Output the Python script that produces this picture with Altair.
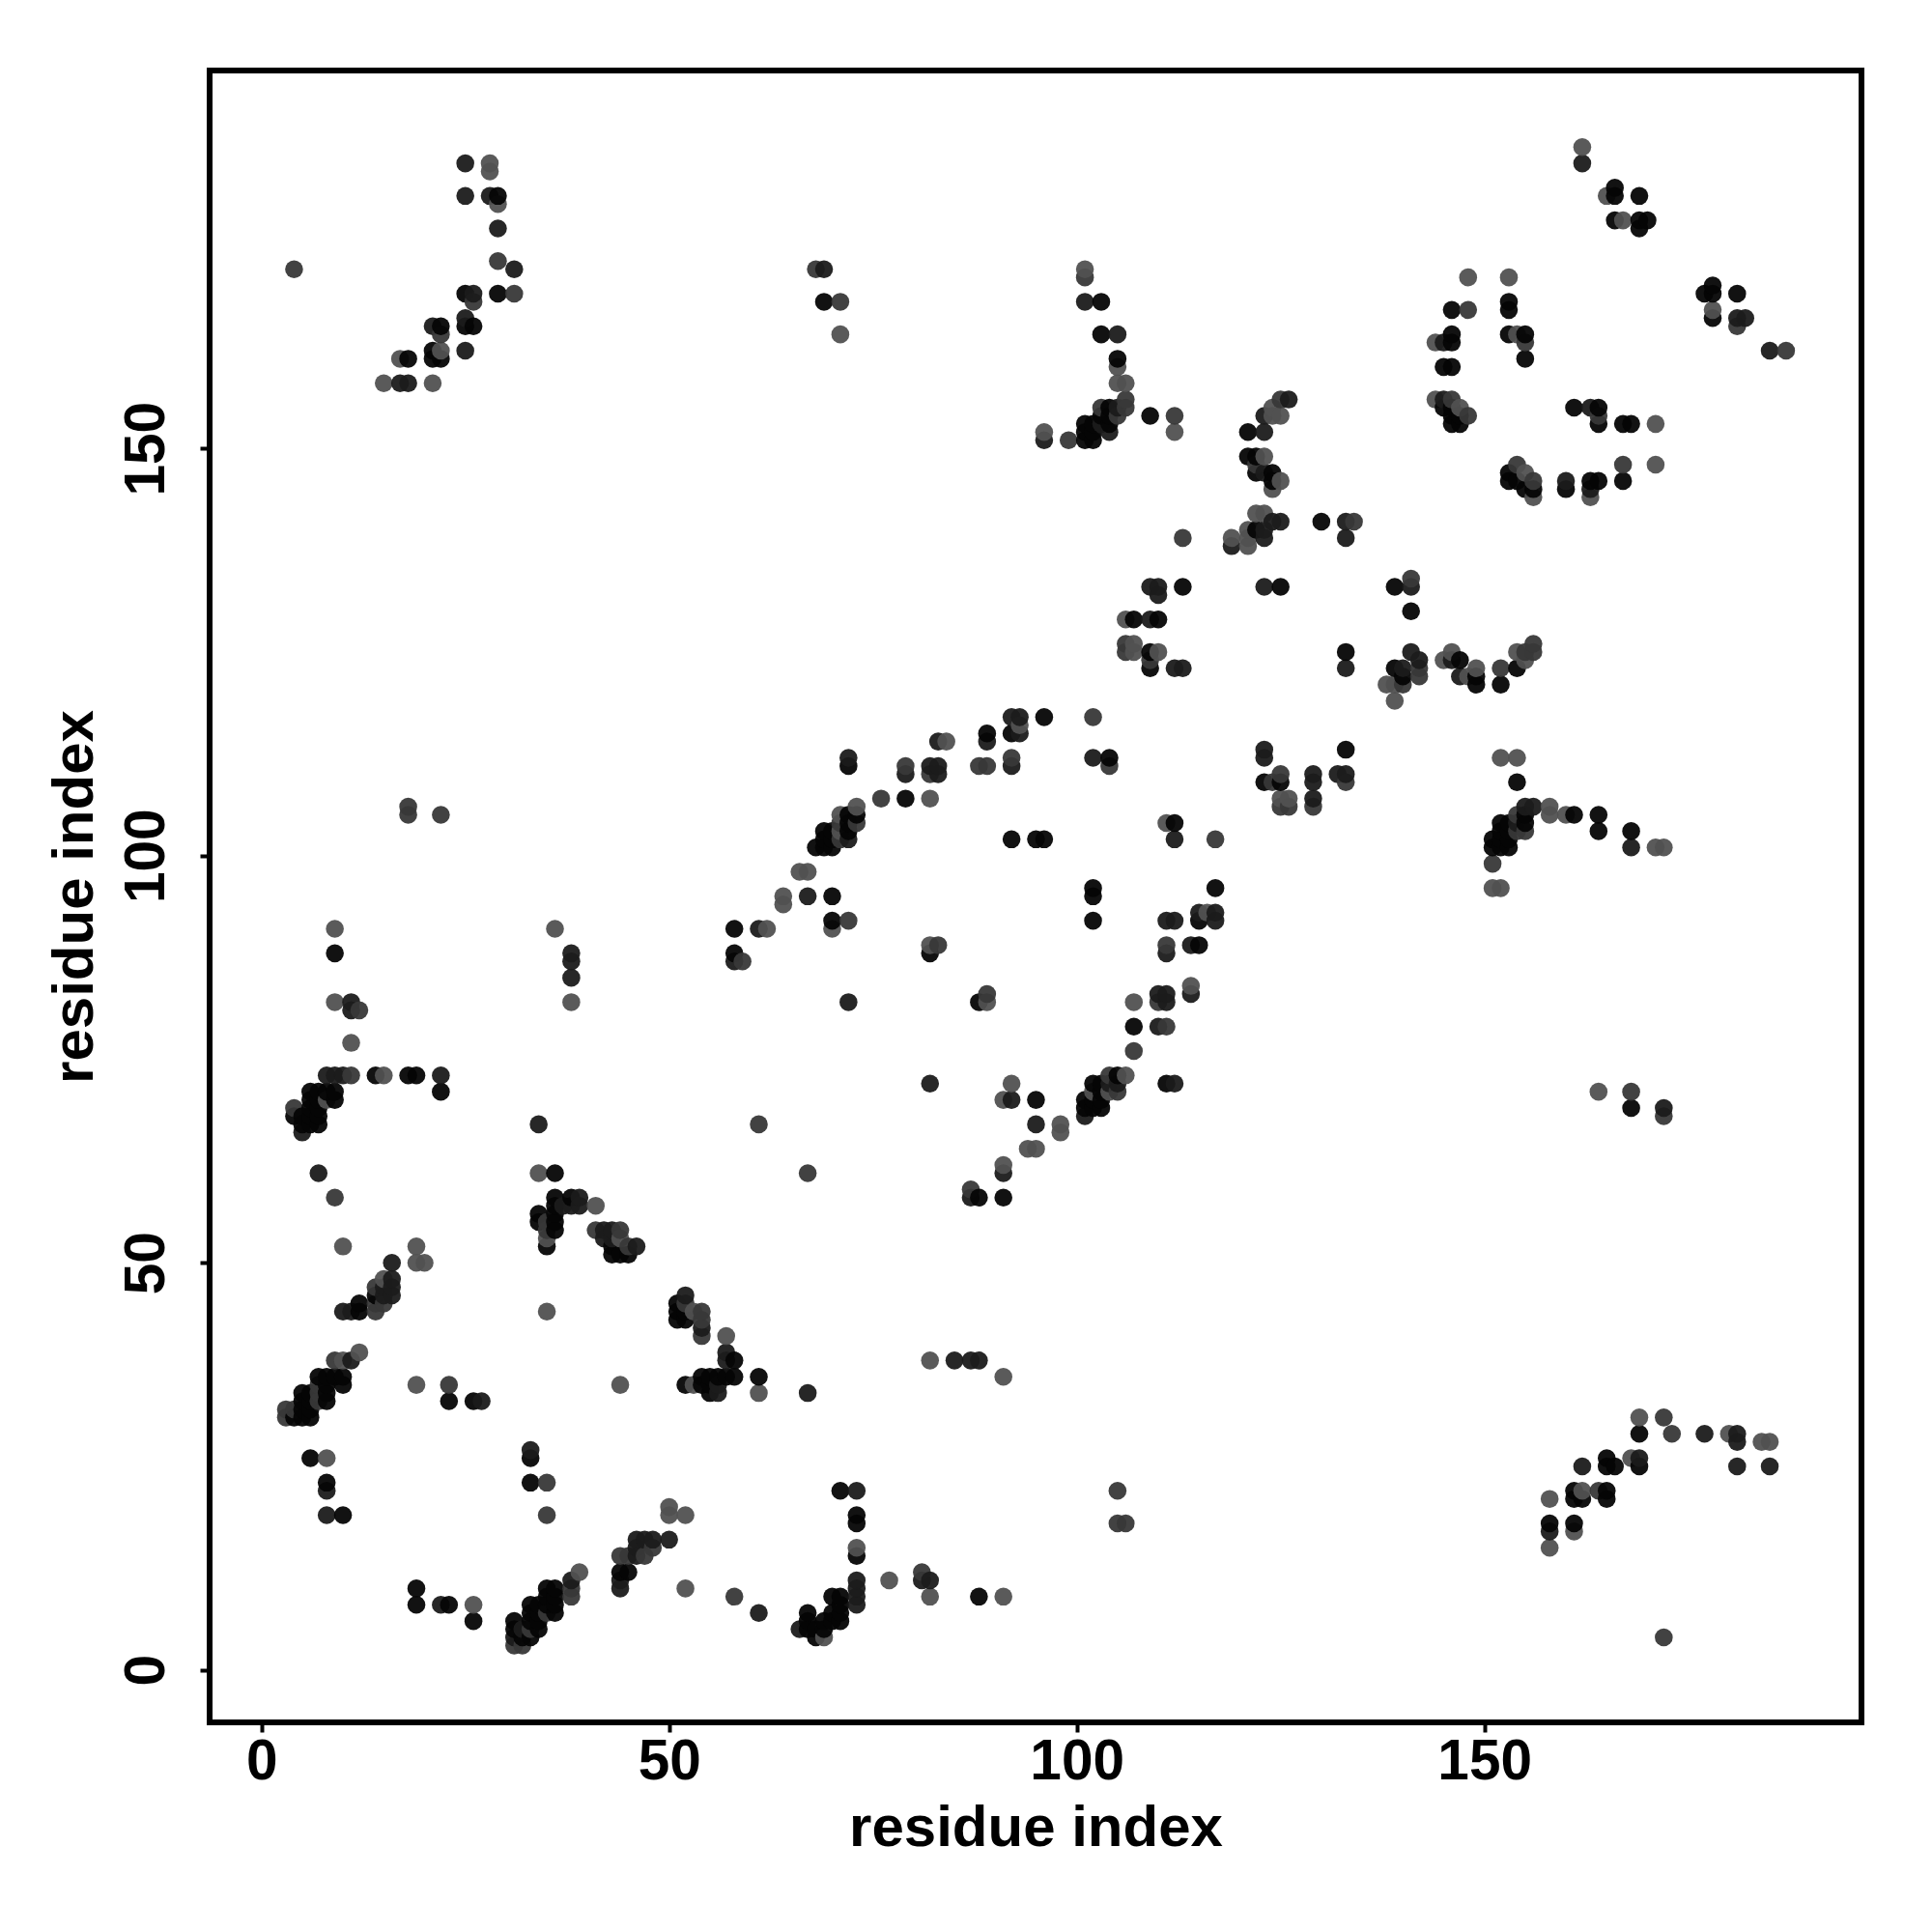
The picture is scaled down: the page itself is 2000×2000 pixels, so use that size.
import altair as alt
import pandas as pd

FILL = {"L": "#515151", "M": "#383838", "D": "#1b1b1b", "K": "#050505"}

contacts_light = [
    (10,52),(19,52),(19,50),(20,50),(15,48),(12,39),(10,38),(35,44),(44,35),(19,35),(8,26),(50,20),(50,19),(52,19),
    (39,12),(26,8),(52,10),(53,44),(57,41),(53,35),(61,34),(41,57),(35,53),(44,53),(9,91),(9,82),(11,77),(15,73),
    (36,91),(38,82),(34,61),(62,91),(64,95),(64,94),(73,15),(77,11),(82,9),(91,9),(82,38),(91,36),(69,4),(8,70),
    (93,116),(84,114),(82,107),(73,106),(71,105),(71,103),(66,98),(67,98),(70,91),(82,89),(111,104),(116,93),(114,84),
    (107,82),(89,82),(92,72),(91,70),(98,67),(98,66),(94,64),(95,64),(91,62),(106,73),(104,71),(102,71),
    (152,112),(154,112),(125,107),(126,107),(119,139),(121,139),(121,138),(122,142),(123,142),(125,146),(124,145),(138,121),(139,121),(139,119),
    (145,124),(146,125),(148,122),(149,123),(154,125),(155,124),(155,147),(156,144),(163,144),(171,148),(158,106),(158,105),(160,105),
    (171,101),(172,101),(151,96),(152,96),(162,187),(165,181),(167,178),(178,167),(101,172),(105,160),(105,158),(106,158),
    (112,152),(96,152),(148,171),(153,171),(144,163),(154,164),(144,156),(147,155),(171,153),(124,155),(125,154),(124,154),(121,140),
    (123,149),(164,71),(169,31),(180,29),(184,28),(185,28),(168,26),(158,21),(162,22),(158,15),(161,17),
    (28,185),(28,184),(29,180),(22,162),(17,161),(15,158),(21,158),(71,164),(106,129),(107,126),(107,125),(110,125),
]
contacts_mid = [
    (14,47),(14,45),(14,44),(15,45),(9,38),(3,32),(3,31),(4,32),(7,35),(7,34),(7,33),(23,35),(35,23),(35,19),(48,15),(47,14),(45,14),(44,14),
    (38,10),(38,9),(33,5),(35,7),(35,55),(44,54),(41,54),(45,52),(52,45),(54,44),(54,43),(54,41),(58,9),(18,106),(18,105),(22,105),(12,81),(11,73),
    (172,4),(59,87),(61,67),(67,61),(81,12),(105,22),(105,18),(106,18),(4,69),(9,58),(35,54),
    (102,117),(79,111),(88,111),(89,111),(92,112),(104,111),(82,110),(76,107),(73,104),(71,104),(71,102),(72,92),(117,102),(83,89),(111,89),
    (110,82),(111,79),(89,83),(107,76),(105,71),(104,73),(87,59),(113,139),(124,109),(125,110),(125,106),(126,106),
    (129,106),(133,109),(134,141),(140,121),(142,122),(142,123),(152,123),(155,125),(156,126),(156,125),(156,146),(154,105),(154,103),(155,103),
    (151,99),(181,165),(187,162),(148,167),(155,163),(146,156),(148,154),(164,154),(167,148),(154,148),(99,151),
    (103,155),(106,156),(106,155),(105,154),(112,154),(122,148),(168,71),(172,68),(172,31),(173,29),(164,22),
    (4,172),(29,173),(26,168),(31,169),(22,164),(68,172),(71,168),(141,134),(106,126),(106,125),(109,124),
    (32,3),(31,3),(101,171),(125,156),
]
contacts_dark = [
    (16,50),(16,48),(15,47),(16,47),(15,46),(16,46),(10,44),(11,44),(11,38),(8,22),(8,19),(33,27),(46,16),(47,16),(48,16),(50,16),(46,15),(46,14),
    (44,11),(44,10),(38,11),(32,5),(31,4),(22,8),(27,33),(85,38),(87,38),(88,38),(67,34),(38,57),(39,57),(37,57),(39,58),(42,54),(43,54),(42,53),(43,53),(46,52),
    (52,46),(54,42),(57,39),(57,38),(56,35),(56,34),(61,7),(11,82),(11,81),(8,73),(9,73),(10,73),(22,73),(38,88),(38,87),(38,85),(7,61),(5,66),(34,67),(61,91),
    (58,87),(73,22),(73,11),(73,10),(73,9),(73,8),(81,11),(82,11),(66,5),(92,117),(93,117),(93,115),(89,114),(83,114),(92,111),(102,112),(82,111),(83,111),(83,110),(79,110),
    (72,112),(72,102),(67,95),(112,102),(111,92),(112,92),(115,93),(117,93),(117,92),(114,89),(111,88),(114,83),(110,83),(111,83),(111,82),(110,79),(72,82),(82,72),(92,70),(95,67),(91,61),(87,58),
    (105,72),(104,72),(101,68),(112,72),(123,113),(123,112),(129,110),(129,109),(129,107),(132,110),(133,110),(133,123),(141,125),(142,124),(140,123),(123,133),(141,133),(133,141),(133,139),(119,138),
    (123,140),(123,139),(124,141),(125,141),(146,124),(147,122),(160,146),(163,145),(168,101),(155,106),(156,106),(154,104),(162,185),(181,166),(182,166),(185,162),(101,168),(105,164),(105,155),(103,153),(104,152),(96,151),
    (145,163),(145,156),(163,155),(123,152),(123,154),(126,156),(123,147),(172,69),(177,29),(181,29),(181,28),(181,25),(185,25),(162,25),(169,26),(158,17),
    (25,185),(25,181),(28,181),(29,177),(31,172),(26,169),(25,166),(21,165),(25,162),(17,158),(18,158),(109,133),(110,133),(110,132),(109,129),(112,123),(113,123),(69,172),
]
contacts_black = [
    (12,45),(12,44),(7,36),(8,36),(9,36),(10,36),(8,35),(10,35),(5,34),(6,34),(8,34),(5,33),(6,33),(8,33),(5,32),(6,32),(4,31),(5,31),(6,31),(14,46),(23,33),(26,33),
    (6,26),(8,23),(10,19),(33,26),(33,23),(44,12),(45,12),(35,10),(36,10),(35,9),(36,9),(33,8),(34,8),(35,8),(36,8),(33,7),(34,7),(36,7),(31,6),(33,6),(34,6),(31,5),(34,5),(32,4),(33,4),(19,10),(19,8),(23,8),(26,6),
    (34,56),(36,56),(34,55),(36,55),(36,54),(35,52),(36,61),(36,58),(38,58),(36,57),(43,52),(43,51),(44,51),(45,51),(51,45),(51,44),(52,44),(51,43),(52,43),(54,36),(55,36),(56,36),(57,36),(58,36),(61,36),(52,35),(54,35),(55,35),(55,34),(58,38),
    (9,88),(14,73),(18,73),(19,73),(6,71),(7,71),(8,71),(9,71),(22,71),(9,70),(6,70),(7,70),(6,69),(7,69),(4,68),(5,68),(6,68),(7,68),(5,67),(6,67),(7,67),(58,91),(58,88),
    (71,22),(73,19),(73,18),(73,14),(70,9),(71,9),(71,8),(67,7),(70,7),(71,7),(67,6),(69,6),(70,6),(71,6),(67,5),(68,5),(69,5),(68,4),(88,9),
    (96,117),(92,115),(89,115),(104,112),(72,111),(79,107),(72,105),(73,105),(72,104),(69,103),(70,103),(72,103),(69,102),(70,102),(68,101),(69,101),(70,101),(70,95),(70,92),(112,104),(92,102),(95,102),(96,102),
    (102,96),(102,95),(102,92),(117,96),(115,92),(115,89),(82,88),(88,82),(107,79),(95,70),(88,58),(91,58),(105,73),(102,72),(103,72),(103,71),(101,70),(102,70),(103,70),(101,69),(102,69),(103,69),(111,72),
    (133,113),(154,109),(123,109),(125,109),(133,125),(139,123),(140,122),(147,124),(149,122),(149,121),(152,121),(154,123),(125,133),(139,133),(141,130),(130,141),(122,140),(122,147),(124,146),(153,147),(153,146),(154,146),(155,145),(156,145),(160,145),(163,146),(164,146),(167,146),
    (155,105),(161,105),(164,105),(164,103),(168,103),(152,104),(153,104),(155,104),(152,103),(153,103),(151,102),(152,102),(153,102),(151,101),(152,101),(153,101),(166,182),(166,181),(169,181),(166,178),(169,178),(170,178),(169,177),
    (178,170),(177,169),(178,169),(181,169),(178,166),(103,168),(103,164),(105,161),(104,155),(103,154),(104,154),(101,153),(102,153),(104,153),(101,152),(102,152),(101,151),(102,151),(109,154),
    (146,167),(153,168),(153,167),(146,164),(146,163),(153,164),(155,164),(155,161),(145,160),(146,160),(145,155),(146,155),(146,154),(147,154),(146,153),(147,153),(161,155),(164,155),(164,153),(167,153),(168,153),
    (121,152),(121,149),(122,149),(124,147),(168,69),(169,29),(165,26),(165,25),(166,25),(169,25),(161,22),(161,21),(162,21),(165,22),(165,21),(158,18),(161,18),
    (29,181),(25,169),(29,169),(25,165),(26,165),(22,165),(21,162),(21,161),(22,161),(18,161),(69,168),(113,133),(107,129),(110,129),(109,125),(109,123),
]

levels = {"L": contacts_light, "M": contacts_mid, "D": contacts_dark, "K": contacts_black}
cells = {}
for lev, pts in levels.items():
    for p in pts:
        cells[p] = lev
rows = [{"x": p[0], "y": p[1], "shade": FILL[v]} for p, v in sorted(cells.items())]
df = pd.DataFrame(rows)

FONT = "Liberation Sans"
chart = (
    alt.Chart(df)
    .mark_point(filled=True, shape="circle", size=345, opacity=0.95, strokeWidth=0)
    .encode(
        x=alt.X("x:Q", scale=alt.Scale(domain=[-6.36, 196.25], nice=False, zero=False),
                axis=alt.Axis(values=[0, 50, 100, 150], title="residue index", grid=False, domain=False,
                              tickSize=10, tickWidth=4, tickColor="black", labelFont=FONT, labelFontWeight="bold",
                              labelFontSize=58.5, labelColor="black", labelPadding=2, titleFont=FONT,
                              titleFontWeight="bold", titleFontSize=60, titleColor="black", titlePadding=11)),
        y=alt.Y("y:Q", scale=alt.Scale(domain=[-6.44, 196.4], nice=False, zero=False),
                axis=alt.Axis(values=[0, 50, 100, 150], title="residue index", grid=False, domain=False,
                              tickSize=10, tickWidth=4, tickColor="black", labelFont=FONT, labelFontWeight="bold",
                              labelFontSize=58.5, labelColor="black", labelAngle=270, labelAlign="center",
                              labelBaseline="bottom", labelPadding=26, titleFont=FONT, titleFontWeight="bold",
                              titleFontSize=60, titleColor="black", titlePadding=14)),
        fill=alt.Fill("shade:N", scale=None),
        order=alt.Order("rank:Q"),
    )
    .transform_window(rank="row_number()")
    .properties(width=1710, height=1710, background="white",
                padding={"left": 209, "top": 65, "right": 60, "bottom": 200},
                autosize=alt.AutoSizeParams(type="none"))
    .configure_view(stroke="black", strokeWidth=6)
)
chart.save("out.html", embed_options={"renderer": "svg", "actions": False})
